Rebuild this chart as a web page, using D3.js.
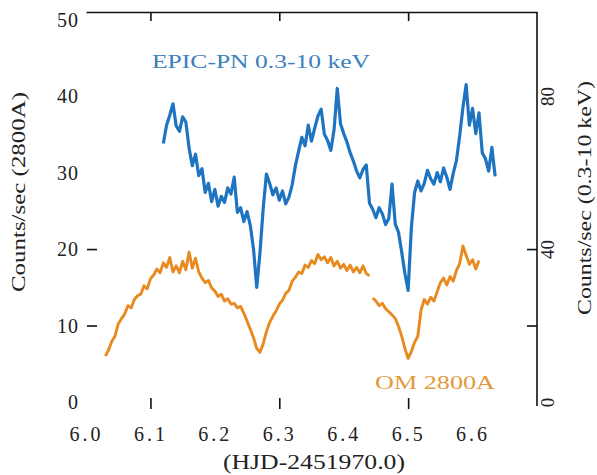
<!DOCTYPE html>
<html>
<head>
<meta charset="utf-8">
<script src="https://cdn.jsdelivr.net/npm/d3@7"></script>
<style>
  html, body { margin: 0; padding: 0; background: #fff; }
  svg { display: block; }
  text { font-family: "Liberation Serif", "Times New Roman", serif; fill: #222; }
</style>
</head>
<body>
<svg id="chart" width="597" height="475"></svg>
<script>
// ---- Data ----
// OM 2800A light curve (left axis, counts/sec)
const omTime = [6.030,6.035,6.040,6.045,6.050,6.055,6.060,6.065,6.070,6.075,6.080,6.085,6.090,6.095,6.100,6.105,6.110,6.115,6.120,6.125,6.130,6.135,6.140,6.145,6.150,6.155,6.160,6.165,6.170,6.175,6.180,6.185,6.190,6.195,6.200,6.205,6.210,6.215,6.220,6.225,6.230,6.235,6.240,6.245,6.250,6.255,6.260,6.265,6.270,6.275,6.280,6.285,6.290,6.295,6.300,6.305,6.310,6.315,6.320,6.325,6.330,6.335,6.340,6.345,6.350,6.355,6.360,6.365,6.370,6.375,6.380,6.385,6.390,6.395,6.400,6.405,6.410,6.415,6.420,6.425,6.430,6.435,6.440,6.442,6.445,6.450,6.455,6.460,6.465,6.470,6.475,6.480,6.485,6.490,6.495,6.500,6.505,6.510,6.515,6.520,6.525,6.530,6.535,6.540,6.545,6.550,6.555,6.560,6.565,6.570,6.575,6.580,6.585,6.590,6.595,6.600,6.605,6.610];
const omRate = [6.0,6.8,7.9,8.6,10.2,10.9,11.5,12.6,12.3,13.4,13.9,14.1,15.2,14.8,16.1,16.6,17.4,16.9,18.2,17.6,18.9,17.0,17.8,16.9,18.4,17.3,19.6,17.5,18.8,17.0,16.2,15.6,15.9,14.9,14.5,13.8,14.1,13.2,13.5,12.8,12.9,12.3,12.5,11.6,10.6,9.5,8.4,7.0,6.5,7.6,9.2,10.4,11.2,11.9,12.8,13.3,14.2,14.6,15.8,16.3,17.0,16.8,17.9,17.6,18.5,18.1,19.3,18.6,19.0,18.2,18.9,17.8,18.4,17.5,18.0,17.2,17.9,17.0,17.6,16.9,17.8,16.8,16.5,null,13.6,13.2,12.6,12.9,12.2,11.8,11.4,10.9,9.9,8.6,7.0,5.7,6.6,7.8,8.6,12.0,13.4,12.8,13.7,13.2,14.4,15.6,16.2,15.3,16.4,15.8,17.2,18.1,20.4,19.2,18.0,18.6,17.4,18.5];

// EPIC-PN 0.3-10 keV light curve (right axis, counts/sec)
const pnTime = [6.120,6.125,6.130,6.135,6.140,6.145,6.150,6.155,6.160,6.165,6.170,6.175,6.180,6.185,6.190,6.195,6.200,6.205,6.210,6.215,6.220,6.225,6.230,6.235,6.240,6.245,6.250,6.255,6.260,6.265,6.270,6.275,6.280,6.285,6.290,6.295,6.300,6.305,6.310,6.315,6.320,6.325,6.330,6.335,6.340,6.345,6.350,6.355,6.360,6.365,6.370,6.375,6.380,6.385,6.390,6.395,6.400,6.405,6.410,6.415,6.420,6.425,6.430,6.435,6.440,6.445,6.450,6.455,6.460,6.465,6.470,6.475,6.480,6.485,6.490,6.495,6.500,6.505,6.510,6.515,6.520,6.525,6.530,6.535,6.540,6.545,6.550,6.555,6.560,6.565,6.570,6.575,6.580,6.585,6.590,6.595,6.600,6.605,6.610,6.615,6.620,6.625,6.630,6.635];
const pnRate = [67.6,72.4,75.0,78.0,72.2,70.8,74.6,73.2,66.4,61.8,64.8,59.2,61.0,54.8,57.2,52.4,55.6,51.2,53.8,52.2,56.0,54.4,58.8,49.6,50.8,47.2,49.8,46.2,40.0,30.0,39.0,50.6,59.6,57.2,54.2,56.0,52.8,55.2,51.8,53.6,56.8,61.8,65.6,69.2,67.0,72.4,68.2,71.6,74.8,76.6,70.0,68.4,65.8,71.2,82.0,72.8,70.2,68.0,65.2,63.0,60.4,58.6,60.8,62.0,52.0,50.4,48.2,50.8,49.2,46.4,48.0,57.0,46.6,44.4,39.2,33.6,29.2,45.6,54.8,57.8,55.2,57.2,60.6,58.4,57.0,60.0,57.6,61.2,58.8,55.6,59.8,63.2,69.6,77.0,83.0,72.4,76.8,70.2,75.6,65.2,63.6,60.4,66.6,59.0];

// Tick labels
const xTickLabels = [6.0, 6.1, 6.2, 6.3, 6.4, 6.5, 6.6];
const xMarkTicks = [6.1, 6.3, 6.5];
const yLeftLabels = [0, 10, 20, 30, 40, 50];
const yLeftMarks = [10, 20];
const yRightLabels = [0, 40, 80];
const yRightMarks = [20, 40];

// ---- Layout ----
const svg = d3.select("#chart");
const L = 86, R = 537, T = 12, B = 402;

const x = d3.scaleLinear().domain([6.0, 6.7]).range([L, R]);
const yL = d3.scaleLinear().domain([0, 51]).range([B, T]);
const yR = d3.scaleLinear().domain([0, 102]).range([B, T]);

const blue = "#1f74c2";
const orange = "#e88a1f";

// Lines
const omData = omTime.map((t, i) => ({t, v: omRate[i]}));
const pnData = pnTime.map((t, i) => ({t, v: pnRate[i]}));

svg.append("path")
  .datum(omData)
  .attr("fill", "none")
  .attr("stroke", orange)
  .attr("stroke-width", 2.9)
  .attr("stroke-linejoin", "round")
  .attr("d", d3.line().defined(d => d.v != null).x(d => x(d.t)).y(d => yL(d.v)));

svg.append("path")
  .datum(pnData)
  .attr("fill", "none")
  .attr("stroke", blue)
  .attr("stroke-width", 3.2)
  .attr("stroke-linejoin", "round")
  .attr("d", d3.line().defined(d => d.v != null).x(d => x(d.t)).y(d => yR(d.v)));

// Top frame line with inward ticks
const gTop = svg.append("g").attr("transform", `translate(0,${T})`)
  .call(d3.axisTop(x).tickValues(xMarkTicks).tickSize(-9).tickSizeOuter(0).tickFormat(""));
gTop.selectAll("path, line").attr("stroke", "#111").attr("stroke-width", 1.6);

// Bottom tick marks (no axis line)
const gBotMarks = svg.append("g").attr("transform", `translate(0,${B + 7})`)
  .call(d3.axisBottom(x).tickValues(xMarkTicks).tickSize(-11).tickFormat(""));
gBotMarks.select(".domain").remove();
gBotMarks.selectAll("line").attr("stroke", "#111").attr("stroke-width", 1.6);

// Bottom tick labels
const gBot = svg.append("g").attr("transform", `translate(0,${B})`)
  .call(d3.axisBottom(x).tickValues(xTickLabels).tickSize(0).tickFormat(d3.format(".1f")));
gBot.select(".domain").remove();
gBot.selectAll("text")
  .attr("y", 39).attr("dy", null)
  .style("font-size", "20px").style("letter-spacing", "3px")
  .style("font-family", "Liberation Serif").attr("fill", "#222");

// Left tick marks (inward, no axis line)
const gLeftMarks = svg.append("g").attr("transform", `translate(${L + 1},0)`)
  .call(d3.axisLeft(yL).tickValues(yLeftMarks).tickSize(-10).tickFormat(""));
gLeftMarks.select(".domain").remove();
gLeftMarks.selectAll("line").attr("stroke", "#111").attr("stroke-width", 1.6);

// Left tick labels
const gLeft = svg.append("g").attr("transform", `translate(${L},0)`)
  .call(d3.axisLeft(yL).tickValues(yLeftLabels).tickSize(0).tickPadding(7).tickFormat(d3.format("d")));
gLeft.select(".domain").remove();
gLeft.selectAll("text")
  .attr("dy", "0.33em")
  .style("font-size", "20px").style("letter-spacing", "1px")
  .style("font-family", "Liberation Serif").attr("fill", "#222");

// Right axis line with inward ticks
const gRight = svg.append("g").attr("transform", `translate(${R},0)`)
  .call(d3.axisRight(yR).tickValues(yRightMarks).tickSize(-10).tickSizeOuter(0).tickFormat(""));
gRight.select(".domain").attr("d", `M0,${T}V${B + 4}`);
gRight.selectAll("path, line").attr("stroke", "#111").attr("stroke-width", 1.6);

// Right tick labels (rotated)
const gRightLab = svg.append("g").attr("transform", `translate(${R},0)`)
  .call(d3.axisRight(yR).tickValues(yRightLabels).tickSize(0).tickFormat(d3.format("d")));
gRightLab.select(".domain").remove();
gRightLab.selectAll("text")
  .attr("x", null).attr("dy", null)
  .attr("transform", "translate(17,0) rotate(-90)")
  .attr("text-anchor", "middle")
  .style("font-size", "19px")
  .style("font-family", "Liberation Serif").attr("fill", "#222");

// Axis titles
svg.append("text")
  .attr("transform", "translate(25,192) rotate(-90)")
  .attr("text-anchor", "middle")
  .attr("textLength", 200).attr("lengthAdjust", "spacingAndGlyphs")
  .style("font-size", "18px")
  .text("Counts/sec (2800A)");

svg.append("text")
  .attr("transform", "translate(591,198) rotate(-90)")
  .attr("text-anchor", "middle")
  .attr("textLength", 234).attr("lengthAdjust", "spacingAndGlyphs")
  .style("font-size", "18px")
  .text("Counts/sec (0.3-10 keV)");

svg.append("text")
  .attr("x", 314).attr("y", 469)
  .attr("text-anchor", "middle")
  .attr("textLength", 182).attr("lengthAdjust", "spacingAndGlyphs")
  .style("font-size", "20px")
  .text("(HJD-2451970.0)");

// Series labels
svg.append("text")
  .attr("x", 152).attr("y", 68)
  .attr("textLength", 218).attr("lengthAdjust", "spacingAndGlyphs")
  .style("font-size", "19px")
  .style("fill", "#3a80bd")
  .text("EPIC-PN 0.3-10 keV");

svg.append("text")
  .attr("x", 375).attr("y", 389)
  .attr("textLength", 120).attr("lengthAdjust", "spacingAndGlyphs")
  .style("font-size", "19px")
  .style("fill", "#e39a3c")
  .text("OM 2800A");
</script>
</body>
</html>
